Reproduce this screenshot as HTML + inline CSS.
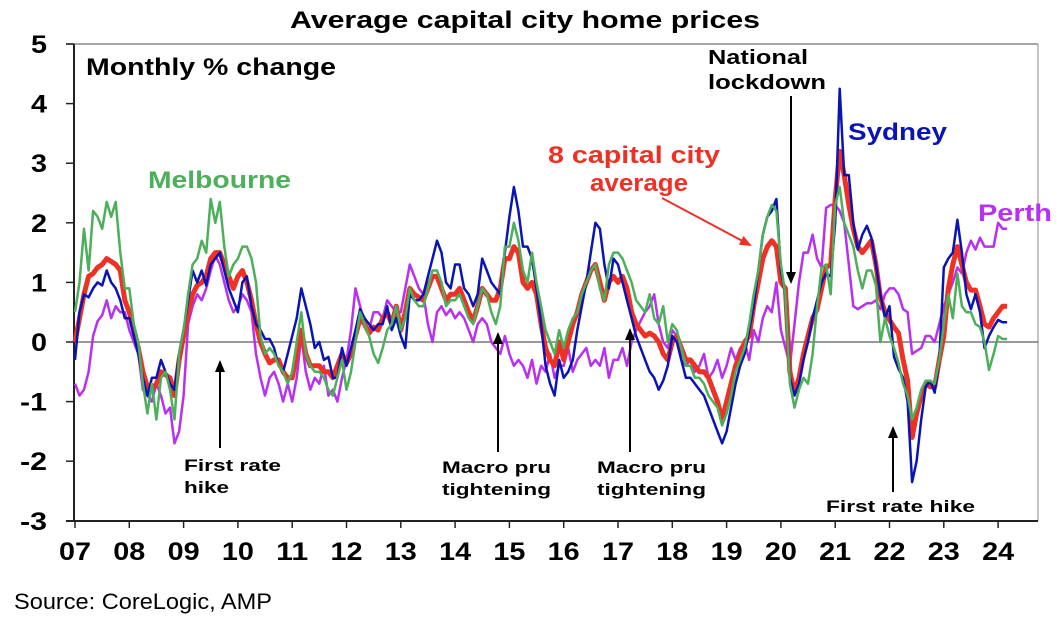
<!DOCTYPE html>
<html><head><meta charset="utf-8"><style>
html,body{margin:0;padding:0;background:#fff;}
svg{display:block;font-family:"Liberation Sans",Arial,sans-serif;}
</style></head><body>
<svg id="chart" width="1060" height="624" viewBox="0 0 1060 624">
<defs><marker id="ah" markerUnits="userSpaceOnUse" markerWidth="12" markerHeight="12" refX="10" refY="6" orient="auto"><path d="M0,1 L12,6 L0,11 z" fill="#000"/></marker>
<marker id="ahr" markerUnits="userSpaceOnUse" markerWidth="12" markerHeight="12" refX="10" refY="6" orient="auto"><path d="M0,1 L12,6 L0,11 z" fill="#ee3124"/></marker></defs>
<text x="290" y="28" font-size="24" font-weight="bold" textLength="470" lengthAdjust="spacingAndGlyphs">Average capital city home prices</text>
<g id="axes"></g>
<g id="series"></g>
<text x="86" y="75" font-size="24" font-weight="bold" textLength="250" lengthAdjust="spacingAndGlyphs">Monthly % change</text>
<text x="148" y="188" font-size="24" font-weight="bold" fill="#4caf5a" textLength="143" lengthAdjust="spacingAndGlyphs">Melbourne</text>
<text x="848" y="140" font-size="24" font-weight="bold" fill="#0a14b4" textLength="99" lengthAdjust="spacingAndGlyphs">Sydney</text>
<text x="978" y="221" font-size="24" font-weight="bold" fill="#b830f0" textLength="74" lengthAdjust="spacingAndGlyphs">Perth</text>
<text x="548" y="163" font-size="24" font-weight="bold" fill="#ee3124" textLength="172" lengthAdjust="spacingAndGlyphs">8 capital city</text>
<text x="590" y="191" font-size="24" font-weight="bold" fill="#ee3124" textLength="98" lengthAdjust="spacingAndGlyphs">average</text>
<line x1="662" y1="198" x2="750" y2="245" stroke="#ee3124" stroke-width="2" marker-end="url(#ahr)"/>
<text x="708" y="64" font-size="20" font-weight="bold" textLength="100" lengthAdjust="spacingAndGlyphs">National</text>
<text x="708" y="89" font-size="20" font-weight="bold" textLength="118" lengthAdjust="spacingAndGlyphs">lockdown</text>
<line x1="791" y1="96" x2="791" y2="282" stroke="#000" stroke-width="2" marker-end="url(#ah)"/>
<text x="184" y="471" font-size="17" font-weight="bold" textLength="97" lengthAdjust="spacingAndGlyphs">First rate</text>
<text x="184" y="493" font-size="17" font-weight="bold" textLength="45" lengthAdjust="spacingAndGlyphs">hike</text>
<line x1="220" y1="448" x2="220" y2="362" stroke="#000" stroke-width="2" marker-end="url(#ah)"/>
<text x="442" y="473" font-size="17" font-weight="bold" textLength="109" lengthAdjust="spacingAndGlyphs">Macro pru</text>
<text x="442" y="495" font-size="17" font-weight="bold" textLength="109" lengthAdjust="spacingAndGlyphs">tightening</text>
<line x1="498" y1="452" x2="498" y2="334" stroke="#000" stroke-width="2" marker-end="url(#ah)"/>
<text x="597" y="473" font-size="17" font-weight="bold" textLength="109" lengthAdjust="spacingAndGlyphs">Macro pru</text>
<text x="597" y="495" font-size="17" font-weight="bold" textLength="109" lengthAdjust="spacingAndGlyphs">tightening</text>
<line x1="630" y1="452" x2="630" y2="330" stroke="#000" stroke-width="2" marker-end="url(#ah)"/>
<text x="826" y="512" font-size="17" font-weight="bold" textLength="149" lengthAdjust="spacingAndGlyphs">First rate hike</text>
<line x1="893" y1="492" x2="893" y2="428" stroke="#000" stroke-width="2" marker-end="url(#ah)"/>
<text x="14" y="609" font-size="22" textLength="258" lengthAdjust="spacingAndGlyphs">Source: CoreLogic, AMP</text>
</svg>
<script>
const yTicks=[5,4,3,2,1,0,-1,-2,-3];
const yearLabels=["07","08","09","10","11","12","13","14","15","16","17","18","19","20","21","22","23","24"];
const avg=[0,0.4,0.8,1.1,1.15,1.25,1.3,1.4,1.35,1.3,1.2,0.7,
0.5,0.2,-0.1,-0.5,-0.75,-0.8,-0.7,-0.5,-0.55,-0.6,-0.9,-0.3,
0.1,0.5,0.8,0.95,1.0,1.1,1.4,1.5,1.5,1.3,1.1,0.9,
1.1,1.2,1.0,0.7,0.3,0.0,-0.2,-0.35,-0.3,-0.3,-0.5,-0.6,
-0.6,-0.2,0.2,-0.2,-0.4,-0.4,-0.4,-0.5,-0.5,-0.6,-0.4,-0.2,
-0.35,-0.2,0.1,0.4,0.3,0.15,0.25,0.2,0.4,0.5,0.3,0.6,
0.2,0.5,0.9,0.8,0.75,0.7,0.9,1.1,1.1,0.9,0.7,0.8,
0.8,0.9,0.7,0.5,0.35,0.6,0.9,0.8,0.7,0.7,0.9,1.4,
1.4,1.6,1.5,1.0,0.9,1.0,0.8,0.3,-0.1,-0.3,-0.4,0.0,
-0.3,0.0,0.3,0.5,0.8,1.0,1.2,1.3,1.0,0.7,1.0,1.1,
1.0,1.1,0.9,0.5,0.3,0.2,0.1,0.15,0.1,0.0,-0.2,-0.3,
0.0,0.1,-0.1,-0.3,-0.3,-0.4,-0.5,-0.5,-0.6,-0.8,-1.0,-1.3,
-1.0,-0.7,-0.4,-0.2,0.0,0.1,0.6,1.0,1.4,1.6,1.7,1.6,
1.0,0.9,-0.5,-0.85,-0.6,-0.2,0.1,0.4,0.55,0.9,1.25,1.3,
2.4,3.2,2.8,2.3,1.9,1.6,1.5,1.6,1.7,1.3,0.75,0.5,
0.37,0.25,0.15,-0.3,-0.65,-1.6,-1.2,-0.9,-0.7,-0.75,-0.75,-0.3,
0.1,0.9,1.3,1.6,1.3,1.0,0.87,0.87,0.6,0.3,0.25,0.4,
0.5,0.6,0.6];
const sydney=[-0.3,0.5,0.8,0.75,0.9,1.0,0.95,1.2,1.0,0.9,0.7,0.4,
0.4,0.1,-0.2,-0.6,-0.9,-0.6,-0.6,-0.3,-0.5,-0.7,-0.8,-0.2,
0.2,0.7,1.2,1.0,1.2,0.95,1.3,1.4,1.5,1.2,0.9,0.7,
0.5,1.0,1.1,0.6,0.3,0.2,0.05,0.05,-0.1,-0.4,-0.5,-0.2,
0.1,0.4,0.9,0.6,0.3,-0.1,0,-0.3,-0.25,-0.6,-0.6,-0.1,
-0.4,-0.1,0.2,0.55,0.4,0.3,0.2,0.3,0.3,0.6,0.2,0.4,
0.1,-0.1,0.8,0.7,0.7,0.8,1.1,1.4,1.7,1.5,1.0,0.9,
1.3,1.3,0.9,0.8,0.6,0.8,1.4,1.2,1.0,0.9,0.8,1.5,
2.1,2.6,2.2,1.6,1.6,1.4,0.9,0.3,-0.4,-0.7,-0.9,-0.3,
-0.6,-0.5,-0.3,0.2,0.6,1.0,1.5,2.0,1.9,1.3,0.9,1.4,
1.3,1.0,0.7,0.4,0.1,-0.1,-0.3,-0.5,-0.6,-0.8,-0.65,-0.4,
0.1,0.0,-0.3,-0.6,-0.6,-0.7,-0.8,-0.9,-1.1,-1.3,-1.5,-1.7,
-1.5,-1.1,-0.7,-0.4,-0.2,0.2,0.6,1.2,1.8,2.1,2.2,2.4,
1.2,0.8,-0.6,-0.9,-0.7,-0.3,0.0,0.4,0.7,1.0,1.15,1.1,
2.0,4.25,2.8,2.8,2.0,1.55,1.8,1.95,1.75,1.3,0.8,0.4,
0.6,-0.25,-0.45,-0.6,-1.0,-2.35,-2.0,-1.3,-0.75,-0.65,-0.85,-0.3,
1.25,1.4,1.5,2.05,1.5,0.8,0.55,0.8,0.5,-0.1,0.1,0.25,
0.37,0.33,0.33];
const melbourne=[0.5,1.0,1.9,1.2,2.2,2.1,1.9,2.35,2.1,2.35,1.5,0.9,
0.9,0.3,0,-0.7,-1.2,-0.7,-1.3,-0.6,-0.5,-0.8,-1.3,-0.2,
0.2,0.8,1.3,1.4,1.7,1.5,2.4,2.0,2.35,1.6,1.1,1.3,
1.4,1.6,1.6,1.4,1.0,0.1,-0.2,-0.1,-0.2,-0.4,-0.5,-0.7,
-0.5,0.0,0.5,-0.2,-0.4,-0.5,-0.5,-0.6,-0.8,-0.9,-0.6,-0.3,
-0.8,-0.5,0.0,0.5,0.3,0.1,-0.2,-0.35,-0.1,0.2,0.3,0.6,
0.2,0.4,0.9,0.7,0.6,0.6,0.9,1.2,1.2,1.0,0.6,0.7,
0.7,0.8,0.6,0.4,0.3,0.6,0.9,0.8,0.5,0.3,0.6,1.6,
1.6,2.0,1.7,1.2,1.0,1.5,1.0,0.6,0.2,0.0,-0.2,0.2,
-0.1,0.2,0.4,0.5,0.8,1.0,1.2,1.3,0.9,0.7,1.3,1.5,
1.5,1.4,1.2,1.0,0.7,0.6,0.5,0.8,0.4,0.3,0.6,0.0,
0.3,0.2,-0.1,-0.4,-0.4,-0.6,-0.6,-0.7,-0.9,-1.0,-1.1,-1.4,
-1.2,-0.9,-0.5,-0.3,-0.1,0.3,0.8,1.2,1.8,2.1,2.3,2.2,
1.3,0.8,-0.7,-1.1,-0.8,-0.6,-0.7,-0.2,0.6,1.25,1.3,0.8,
2.3,2.6,2.0,1.8,1.6,1.2,0.9,1.2,1.2,0.95,0.0,0.4,
0.1,-0.1,-0.35,-0.7,-0.9,-1.3,-1.1,-0.8,-0.65,-0.65,-0.7,-0.3,
0.3,0.8,0.4,1.15,0.6,0.5,0.5,0.3,0.25,0.0,-0.47,-0.2,
0.1,0.05,0.05];
const perth=[-0.7,-0.9,-0.8,-0.5,0.1,0.35,0.45,0.7,0.4,0.6,0.5,0.5,
0.2,0,-0.2,-0.8,-0.9,-1.0,-0.7,-0.9,-1.2,-1.1,-1.7,-1.5,
-0.9,0.3,0.6,0.8,0.7,0.9,1.2,1.45,1.3,1.0,0.7,0.5,
0.6,0.8,0.7,0.5,-0.2,-0.6,-0.9,-0.6,-0.5,-0.7,-1.0,-0.7,
-1.0,-0.6,0.1,-0.5,-0.8,-0.6,-0.7,-0.4,-0.9,-0.8,-1.0,-0.6,
-0.3,0.2,0.9,0.6,0.3,0.2,0.5,0.5,0.4,0.7,0.6,0.5,
0.5,0.9,1.3,1.1,0.9,0.8,0.3,0.0,0.5,0.6,0.45,0.55,
0.4,0.5,0.4,0.2,0.0,0.3,0.4,0.3,0.0,-0.1,-0.2,0.1,
-0.2,-0.4,-0.3,-0.4,-0.6,-0.3,-0.7,-0.4,-0.5,-0.2,-0.6,-0.4,
-0.4,-0.1,-0.5,-0.3,-0.2,-0.1,-0.4,-0.3,-0.4,-0.1,-0.6,-0.3,
-0.3,-0.1,-0.4,0.0,0.2,0.35,0.5,0.6,0.8,0.3,0.0,-0.1,
0.2,0.1,-0.3,-0.4,-0.3,-0.5,-0.4,-0.2,-0.6,-0.5,-0.3,-0.6,
-0.4,-0.1,-0.3,-0.1,0.0,-0.3,0.2,0.0,0.4,0.6,0.5,1.0,
0.2,-0.1,-0.4,0.3,1.0,1.5,1.5,1.8,1.4,1.25,2.25,2.3,
2.3,2.2,2.0,1.3,0.6,0.55,0.6,0.65,0.65,0.7,0.55,0.8,
0.9,0.9,0.8,0.55,0.5,-0.2,-0.15,-0.1,0.1,0.1,0.0,0.3,
0.6,0.8,1.0,1.25,1.15,1.5,1.7,1.55,1.75,1.6,1.6,1.6,
2.0,1.9,1.9];

const NS="http://www.w3.org/2000/svg";
const x0=75,pxMonth=54.3/12,y0=342,pxUnit=59.6;
function xScale(i){return x0+i*pxMonth;}
function yScale(v){return y0-v*pxUnit;}
function mk(tag,attrs,parent){const e=document.createElementNS(NS,tag);for(const k in attrs)e.setAttribute(k,attrs[k]);parent.appendChild(e);return e;}
const axes=document.getElementById('axes');
let el=mk('line',{x1:66,y1:44,x2:1038,y2:44,stroke:'#888','stroke-width':1.5},axes);


el=mk('line',{x1:1038,y1:44,x2:1038,y2:521,stroke:'#888','stroke-width':1},axes);


el=mk('line',{x1:74,y1:44,x2:74,y2:521,stroke:'#222','stroke-width':2},axes);


el=mk('line',{x1:66,y1:521,x2:1038,y2:521,stroke:'#222','stroke-width':2},axes);


el=mk('line',{x1:74,y1:yScale(0),x2:1038,y2:yScale(0),stroke:'#333','stroke-width':1},axes);


yTicks.forEach(v=>{
  const t=mk('line',{x1:66,y1:yScale(v),x2:74,y2:yScale(v),stroke:'#222','stroke-width':1.5},axes);
  
  
  const s=String(v);
  const l=mk('text',{x:47,y:yScale(v)+9,'text-anchor':'end','font-size':25,'font-weight':'bold',textLength:s.length>1?27:16,lengthAdjust:'spacingAndGlyphs'},axes);
  l.textContent=s;
  
  
});
yearLabels.forEach((s,i)=>{
  const x=xScale(i*12);
  const t=mk('line',{x1:x,y1:521,x2:x,y2:528,stroke:'#222','stroke-width':1.5},axes);
  
  
  const l=mk('text',{x:x-16,y:560,'font-size':25,'font-weight':'bold',textLength:32,lengthAdjust:'spacingAndGlyphs'},axes);
  l.textContent=s;
  
  
});
const sg=document.getElementById('series');
function line(data,color,w,name){
  const d=data.map((v,i)=>(i?'L':'M')+xScale(i).toFixed(1)+','+yScale(v).toFixed(1)).join('');
  const p=mk('path',{d:d,fill:'none',stroke:color,'stroke-width':w,'stroke-linejoin':'round'},sg);
  
  
}
line(perth,'#b830f0',2.5,'perth-line');
line(avg,'#ee3124',5,'average-line');
line(sydney,'#0a14b4',2.5,'sydney-line');
line(melbourne,'#4caf5a',2.5,'melbourne-line');
</script>
</body></html>
